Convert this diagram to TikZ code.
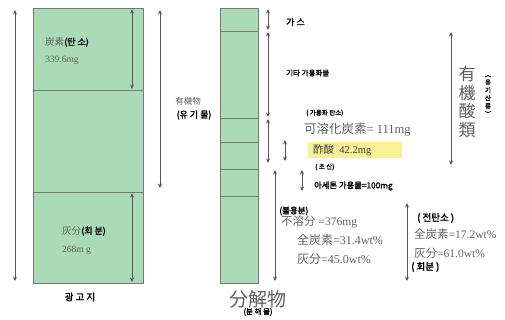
\documentclass[tikz,border=0pt]{standalone}
\usepackage{fontspec}
\setmainfont{Liberation Serif}
\newfontfamily\jp{Noto Sans CJK JP}
\newfontfamily\krb{Noto Sans CJK KR}[FakeBold=2]
\usetikzlibrary{arrows.meta}
\definecolor{boxgreen}{RGB}{170,218,182}
\definecolor{boxline}{RGB}{120,120,120}
\definecolor{txtgray}{RGB}{95,95,95}
\definecolor{hilite}{RGB}{250,240,150}
\definecolor{arrgray}{RGB}{85,85,85}
\tikzset{
  colbox/.style={fill=boxgreen,draw=boxline,line width=0.8pt},
  divline/.style={draw=boxline,line width=0.8pt},
  dblarr/.style={arrgray,line width=0.9pt,{Stealth[length=4.5pt,width=4pt]}-{Stealth[length=4.5pt,width=4pt]}},
  lbl/.style={inner sep=0pt,anchor=west,text=txtgray},
  krlbl/.style={inner sep=0pt,anchor=west,text=black,font=\krb\fontsize{7.5}{8}\selectfont},
}
\begin{document}
\begin{tikzpicture}[x=1pt,y=-1pt]
\useasboundingbox (0,0) rectangle (505,320);
% left column
\draw[colbox] (33,8) rectangle (143,283);
\draw[divline] (33,90) -- (143,90);
\draw[divline] (33,192) -- (143,192);
% middle column
\draw[colbox] (220,8) rectangle (258,283);
\foreach \yy in {31,118,142,169,196} \draw[divline] (220,\yy) -- (258,\yy);
% yellow highlight
\node[fill=hilite,minimum width=94pt,minimum height=16pt,inner sep=0pt,anchor=north west] (hl) at (308,142) {};
% arrow endpoints
\coordinate (a1t) at (15,10); \coordinate (a1b) at (15,281);
\coordinate (a2t) at (132,9); \coordinate (a2b) at (132,89);
\coordinate (a3t) at (132,193); \coordinate (a3b) at (132,282);
\coordinate (a4t) at (160,10); \coordinate (a4b) at (160,188);
\coordinate (a5t) at (268,9); \coordinate (a5b) at (268,30);
\coordinate (a6t) at (268,32); \coordinate (a6b) at (268,117);
\coordinate (a7t) at (268,119); \coordinate (a7b) at (268,163);
\coordinate (a8t) at (285,140); \coordinate (a8b) at (285,161);
\coordinate (a9t) at (275,170); \coordinate (a9b) at (275,281);
\coordinate (a10t) at (302,170); \coordinate (a10b) at (302,191);
\coordinate (a11t) at (407,203); \coordinate (a11b) at (407,281);
\coordinate (a12t) at (451,32); \coordinate (a12b) at (451,165);
\foreach \n in {1,...,12} \draw[dblarr] (a\n t) -- (a\n b);
% left texts
\node[lbl] (c1) at (45,42) {{\jp\fontsize{9.5}{10}\selectfont 炭素}{\krb\fontsize{9}{10}\selectfont\color{black}(탄 소)}};
\node[lbl,font=\fontsize{9.5}{10}\selectfont] (c2) at (45,60) {339.6mg};
\node[lbl] (h1) at (62,231) {{\jp\fontsize{9.5}{10}\selectfont 灰分}{\krb\fontsize{9}{10}\selectfont\color{black}(회 분)}};
\node[lbl,font=\fontsize{9.5}{10}\selectfont] (h2) at (62,250) {268m g};
\node[krlbl,anchor=center,font=\krb\fontsize{9.5}{10}\selectfont] (gg) at (80,297) {광 고 지};
% organic
\node[lbl,anchor=center,font=\jp\fontsize{8.5}{9}\selectfont] (y1) at (188,101) {有機物};
\node[krlbl,anchor=center,font=\krb\fontsize{9}{10}\selectfont] (y2) at (194,115) {(유 기 물)};
% right texts
\node[krlbl,font=\krb\fontsize{9}{10}\selectfont] (gas) at (286,22) {가 스};
\node[krlbl] (etc) at (286,73) {기타 가용화물};
\node[krlbl,font=\krb\fontsize{6.5}{7}\selectfont] (sc1) at (306,113) {( 가용화 탄소)};
\node[lbl,font=\fontsize{12.5}{13}\selectfont] (sc2) at (304,130) {{\jp 可溶化炭素}= 111mg};
\node[lbl,text=black!75,font=\fontsize{10.5}{11}\selectfont] (ac1) at (313,150) {{\jp 酢酸}\ \ 42.2mg};
\node[krlbl,font=\krb\fontsize{6.5}{7}\selectfont] (ac2) at (315,167) {( 초 산)};
\node[krlbl,font=\krb\fontsize{8.3}{9}\selectfont] (at) at (314,186) {아세톤 가용물=100mg};
\node[lbl,font=\fontsize{11.5}{12}\selectfont] (in1) at (281,222) {{\jp 不溶分} =376mg};
\node[krlbl,font=\krb\fontsize{8.5}{9}\selectfont] (in0) at (279,211) {(불용분)};
\node[lbl,font=\fontsize{12}{13}\selectfont] (in2) at (297,240) {{\jp 全炭素}=31.4wt\%};
\node[lbl,font=\fontsize{12}{13}\selectfont] (in3) at (297,259) {{\jp 灰分}=45.0wt\%};
\node[krlbl,font=\krb\fontsize{9.5}{10}\selectfont] (tc0) at (417,218) {( 전탄소 )};
\node[lbl,font=\fontsize{11.5}{12}\selectfont] (tc1) at (414,234) {{\jp 全炭素}=17.2wt\%};
\node[lbl,font=\fontsize{11.5}{12}\selectfont] (tc2) at (414,253) {{\jp 灰分}=61.0wt\%};
\node[krlbl,font=\krb\fontsize{9.5}{10}\selectfont] (tc3) at (411,267) {( 회분 )};
% organic acids
\node[inner sep=0pt,text=txtgray,align=center,font=\jp\fontsize{17}{18.5}\selectfont] (oa) at (467,102) {有\\機\\酸\\類};
\node[inner sep=0pt,align=center,font=\krb\fontsize{6.5}{8}\selectfont] (oa2) at (488,96) {︵\\유\\기\\산\\류\\︶};
% bottom
\node[inner sep=0pt,text=txtgray,font=\jp\fontsize{19}{20}\selectfont] (dp) at (258,299) {分解物};
\node[inner sep=0pt,font=\krb\fontsize{7.5}{8}\selectfont] (dp2) at (258,312) {(분 해 물)};
\end{tikzpicture}
\end{document}
